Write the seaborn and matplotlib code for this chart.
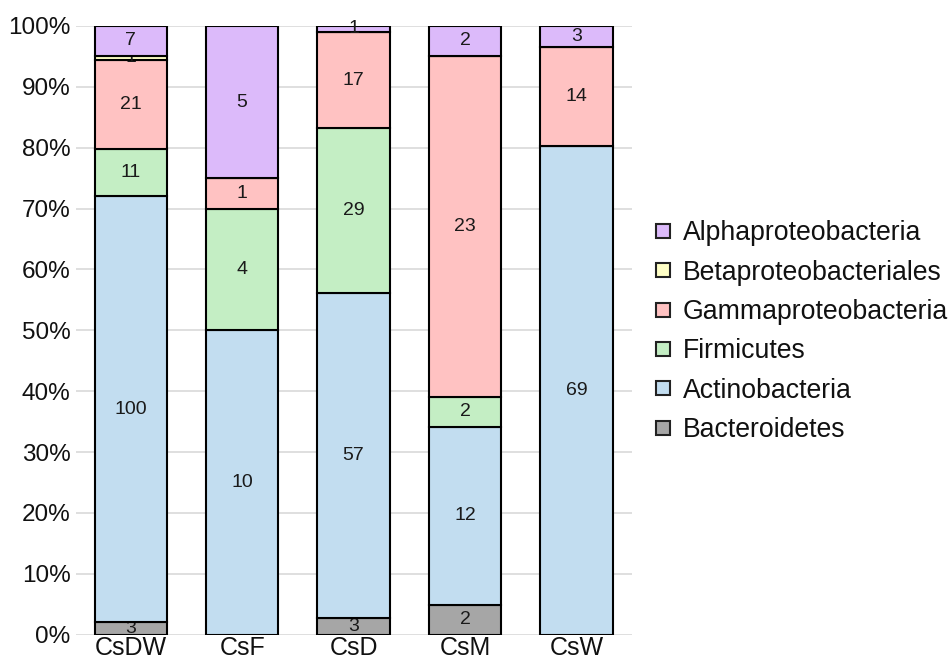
import numpy as np
import pandas as pd
import matplotlib
matplotlib.use("Agg")
import matplotlib.pyplot as plt
import seaborn as sns
from matplotlib.lines import Line2D

samples = ["CsDW", "CsF", "CsD", "CsM", "CsW"]

# counts per taxon, bottom to top of each stack
taxa = ["Bacteroidetes", "Actinobacteria", "Firmicutes",
        "Gammaproteobacteria", "Betaproteobacteriales", "Alphaproteobacteria"]
bacteroidetes = [3, 0, 3, 2, 0]
actinobacteria = [100, 10, 57, 12, 69]
firmicutes = [11, 4, 29, 2, 0]
gammaproteobacteria = [21, 1, 17, 23, 14]
betaproteobacteriales = [1, 0, 0, 0, 0]
alphaproteobacteria = [7, 5, 1, 2, 3]

colors = ["#a6a6a6", "#c2ddf0", "#c4eec4", "#ffc2c2", "#ffffc6", "#dcbafa"]

counts = pd.DataFrame(
    [bacteroidetes, actinobacteria, firmicutes,
     gammaproteobacteria, betaproteobacteriales, alphaproteobacteria],
    index=taxa, columns=samples,
)
pct = counts / counts.sum(axis=0) * 100

sns.set_style("white")
plt.rcParams["font.family"] = ["Liberation Sans", "DejaVu Sans"]
plt.rcParams["text.color"] = "#111111"

fig = plt.figure(figsize=(9.52, 6.66), dpi=100)
ax = fig.add_axes([0.080, 0.047, 0.584, 0.914])

bottom = np.zeros(len(samples))
for taxon, color in zip(taxa, colors):
    vals = pct.loc[taxon].values
    sns.barplot(x=samples, y=vals, bottom=bottom, color=color,
                edgecolor="black", linewidth=1.5, width=0.65,
                saturation=1, ax=ax, zorder=3)
    cont = ax.containers[-1]
    labels = [str(c) if c > 0 else "" for c in counts.loc[taxon].values]
    ax.bar_label(cont, labels=labels, label_type="center", fontsize=14,
                 color="#1a1a1a")
    bottom += vals

ax.set_ylim(0, 100)
ax.set_xlim(-0.49, 4.5)
ax.set_yticks(np.arange(0, 101, 10))
ax.set_yticklabels([f"{v}%" for v in range(0, 101, 10)])
ax.tick_params(axis="y", labelsize=17.5, pad=4, length=0, labelcolor="#111111")
ax.tick_params(axis="x", labelsize=18, pad=1, length=0, labelcolor="#111111")
ax.yaxis.grid(True, color="#d9d9d9", linewidth=1.2, zorder=0)
ax.set_axisbelow(True)
for s in ax.spines.values():
    s.set_visible(False)
ax.set_xlabel("")
ax.set_ylabel("")

handles = [Line2D([0], [0], marker="s", linestyle="none", markersize=10.5,
                  markerfacecolor=c, markeredgecolor="#222222",
                  markeredgewidth=1.5)
           for c in colors[::-1]]
fig.legend(handles, taxa[::-1], loc="center left",
           bbox_to_anchor=(0.686, 0.502), frameon=False, fontsize=19.2,
           borderpad=0, borderaxespad=0, labelcolor="#111111",
           handletextpad=0.33, labelspacing=0.5, handlelength=0.78)

fig.savefig("out.png", dpi=100)
